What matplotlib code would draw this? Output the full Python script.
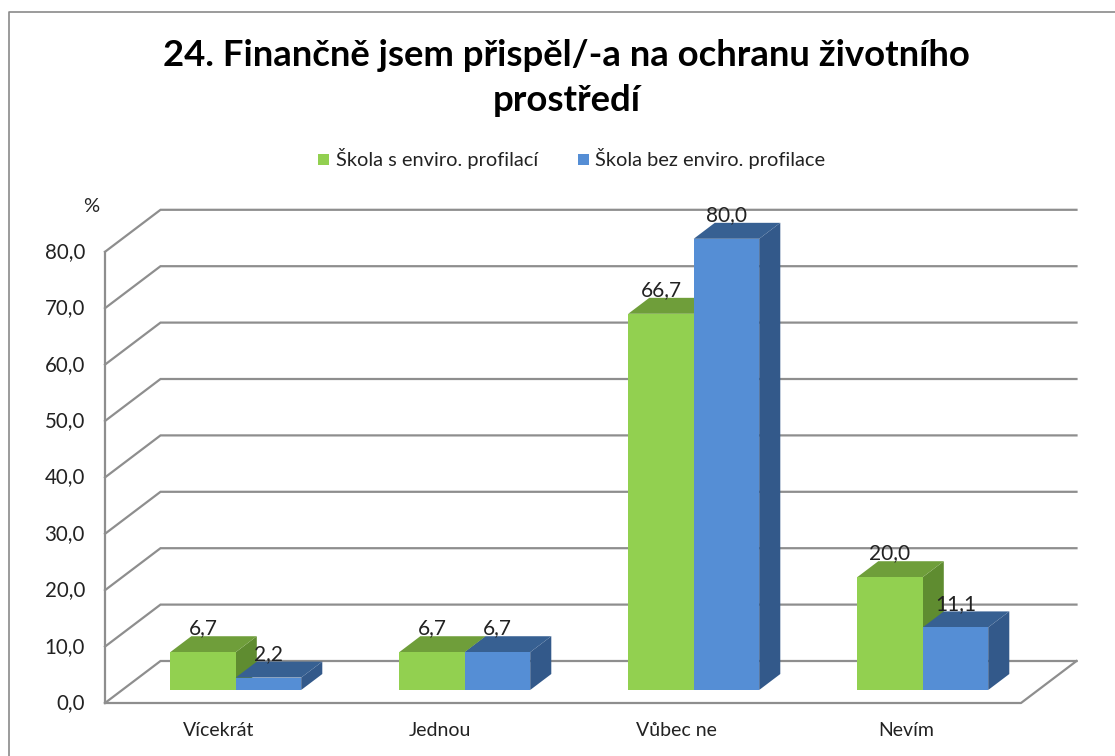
import numpy as np
import matplotlib
matplotlib.use('Agg')
import matplotlib.pyplot as plt
from matplotlib.patches import Rectangle

categories = ['Vícekrát', 'Jednou', 'Vůbec ne', 'Nevím']
green_values = [6.7, 6.7, 66.7, 20.0]
blue_values = [2.2, 6.7, 80.0, 11.1]
series_names = ['Škola s enviro. profilací', 'Škola bez enviro. profilace']
y_ticks = [0, 10, 20, 30, 40, 50, 60, 70, 80]
label_px = [219, 440, 676, 906]

W, H = 1115, 756
PX_X = 229.0      # px per category
PX_Y = 5.64       # px per percent
X0 = 219.5        # px of first category on the front floor edge
Y0 = 703.0        # px of value 0 on the front floor edge
DEPTH_X = 55.5 / PX_X
DEPTH_Y = 42.0 / PX_Y
BAR_W = 65.5 / PX_X
D_FRONT, D_BACK = 0.31, 0.69
BAR_SHIFT = -1.0 / PX_X

plt.rcParams['font.family'] = ['Lato', 'DejaVu Sans']
fig = plt.figure(figsize=(W / 100, H / 100), dpi=100)
ax = fig.add_axes([0, 0, 1, 1])
ax.set_xlim((0 - X0) / PX_X, (W - X0) / PX_X)
ax.set_ylim((Y0 - H) / PX_Y, Y0 / PX_Y)
ax.axis('off')


def px(x, y):
    # figure pixels to data position, for text and frame only
    return (x - X0) / PX_X, (Y0 - y) / PX_Y


def box(x, v, colors, z):
    x = x + D_FRONT * DEPTH_X + BAR_SHIFT
    b = D_FRONT * DEPTH_Y
    d = D_BACK * DEPTH_Y - b
    dx = (D_BACK - D_FRONT) * DEPTH_X
    front, top, side = colors
    ax.fill([x, x + BAR_W, x + BAR_W, x], [b, b, b + v, b + v], color=front, lw=0, zorder=z + 0.2)
    ax.fill([x, x + BAR_W, x + BAR_W + dx, x + dx], [b + v, b + v, b + v + d, b + v + d],
            color=top, lw=0, zorder=z + 0.1)
    ax.fill([x + BAR_W, x + BAR_W + dx, x + BAR_W + dx, x + BAR_W], [b, b + d, b + v + d, b + v],
            color=side, lw=0, zorder=z)


grid_c = '#8e8e8e'
left = -0.5
right = len(categories) - 0.5
for t in y_ticks:
    ax.plot([left, left + DEPTH_X, right + DEPTH_X], [t, t + DEPTH_Y, t + DEPTH_Y],
            color=grid_c, lw=1.6, zorder=1, solid_joinstyle='miter')
    ax.text(*px(85, Y0 - t * PX_Y), f'{t:.1f}'.replace('.', ','), ha='right', va='center',
            fontsize=14.8, color='#222222')
ax.plot([left, left], [0, 80], color=grid_c, lw=1.6, zorder=1)
ax.plot([left, right, right + DEPTH_X], [0, 0, DEPTH_Y], color=grid_c, lw=1.6, zorder=1)

green = ('#92d050', '#6f9e3a', '#5f8c30')
blue = ('#558ed5', '#376092', '#33598a')
for i in range(len(categories)):
    box(i - BAR_W, green_values[i], green, 3 + i)
    box(i, blue_values[i], blue, 3.5 + i)
    ax.text(*px(label_px[i], 730), categories[i], ha='center', va='center',
            fontsize=14, color='#222222', zorder=10)
    for offs, v in ((-BAR_W, green_values[i]), (0, blue_values[i])):
        lx = i + offs + D_FRONT * DEPTH_X + BAR_W / 2 + BAR_SHIFT
        ax.text(lx, D_BACK * DEPTH_Y + v - 0.4, f'{v:.1f}'.replace('.', ','),
                ha='center', va='bottom', fontsize=15, color='#222222', zorder=10)

ax.text(*px(91, 206), '%', ha='center', va='center', fontsize=14.5, color='#222222')

ax.text(*px(566.5, 56), '24. Finančně jsem přispěl/-a na ochranu životního', ha='center', va='center',
        fontsize=26.3, fontweight='bold', color='black')
ax.text(*px(566.5, 101), 'prostředí', ha='center', va='center',
        fontsize=26.3, fontweight='bold', color='black')

# legend
for name, cx, tx, c in ((series_names[0], 323.5, 336, green[0]), (series_names[1], 583, 595, blue[0])):
    ax.add_patch(Rectangle(px(cx - 5.5, 165), 11 / PX_X, 11 / PX_Y, color=c, lw=0))
    ax.text(*px(tx, 159), name, ha='left', va='center', fontsize=14.4, color='#222222')

# chart frame
ax.plot(*zip(px(8.5, H), px(8.5, 12.5), px(W, 12.5)), color='#8a8a8a', lw=1.2)

fig.savefig('out.png', dpi=100, facecolor='white')
